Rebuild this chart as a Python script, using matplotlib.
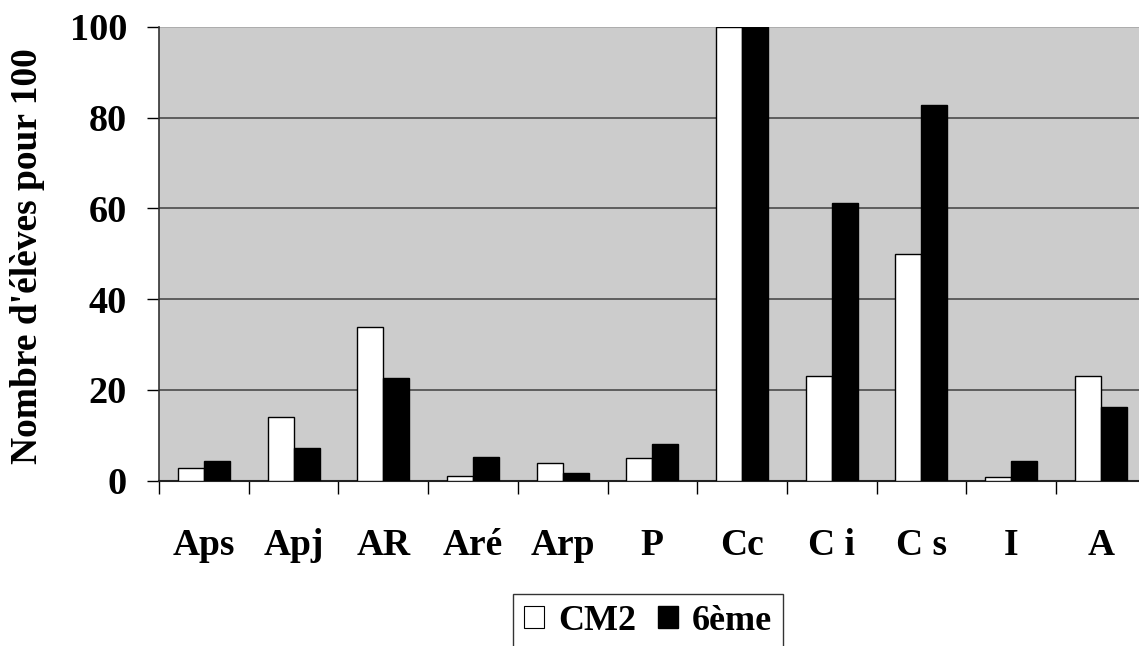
import matplotlib
matplotlib.use("Agg")
import matplotlib.pyplot as plt
from matplotlib.patches import Patch
import numpy as np

categories = ["Aps", "Apj", "AR", "Aré", "Arp", "P", "Cc", "C i", "C s", "I", "A"]
cm2 = [2.8, 14.0, 33.8, 0.9, 3.8, 5.0, 100, 23.0, 50.0, 0.8, 23.0]
sixieme = [4.2, 7.2, 22.5, 5.2, 1.7, 8.1, 100, 61.2, 82.8, 4.2, 16.3]
series_names = ["CM2", "6ème"]
yticks = [0, 20, 40, 60, 80, 100]

plt.rcParams['font.family'] = ['Liberation Serif', 'DejaVu Serif']
plt.rcParams['font.weight'] = 'bold'

W, H = 1139, 646
fig = plt.figure(figsize=(W / 100, H / 100), dpi=100)
left_px, right_px, top_px, bot_px = 159, 1139, 27, 480.5
ax = fig.add_axes([left_px / W, (H - bot_px) / H, (right_px - left_px) / W, (bot_px - top_px) / H])
ax.set_facecolor('#CCCCCC')

x = np.arange(len(categories))
bw = 0.29
ax.bar(x - bw / 2, cm2, bw, color='white', edgecolor='black', linewidth=1.0, zorder=3)
ax.bar(x + bw / 2, sixieme, bw, color='black', edgecolor='black', linewidth=1.0, zorder=3)

ax.set_ylim(0, 100)
ax.set_xlim(-0.5, -0.5 + (right_px - left_px) / 89.7)
ax.set_yticks(yticks)
ax.set_yticklabels([str(v) for v in yticks], fontsize=27.5, fontweight='bold')
ax.tick_params(axis='y', direction='out', length=9, width=1, pad=14)
ax.grid(axis='y', color='#555555', linewidth=1.3, zorder=1)
ax.get_ygridlines()[-1].set_color('#AAAAAA')

ax.set_xticks(x)
ax.set_xticklabels(categories, fontsize=27, fontweight='bold')
ax.tick_params(axis='x', which='major', length=0, pad=34)
ax.set_xticks(np.arange(len(categories)) - 0.5, minor=True)
ax.tick_params(axis='x', which='minor', direction='out', length=9, width=1)

for s in ['top', 'right']:
    ax.spines[s].set_visible(False)
ax.spines['left'].set_color('#333333')
ax.spines['bottom'].set_color('#222222')
ax.spines['left'].set_linewidth(1.2)
ax.spines['bottom'].set_linewidth(1.5)

fig.text(27.5 / W, (H - 256) / H, "Nombre d'élèves pour 100", rotation=90,
         ha='center', va='center', fontsize=27, fontweight='bold')

handles = [Patch(facecolor='white', edgecolor='black', linewidth=0.8),
           Patch(facecolor='black', edgecolor='black')]
leg = fig.legend(handles, series_names, loc='upper left',
                 bbox_to_anchor=(513 / W, (H - 594) / H),
                 prop={'family': 'Liberation Serif', 'weight': 'bold', 'size': 26},
                 ncol=2, frameon=True, fancybox=False, edgecolor='black',
                 handlelength=0.55, handleheight=0.55, handletextpad=0.4,
                 columnspacing=0.6, borderpad=0.3, borderaxespad=0)
leg.get_frame().set_linewidth(1.0)

fig.savefig("out.png", dpi=100)
